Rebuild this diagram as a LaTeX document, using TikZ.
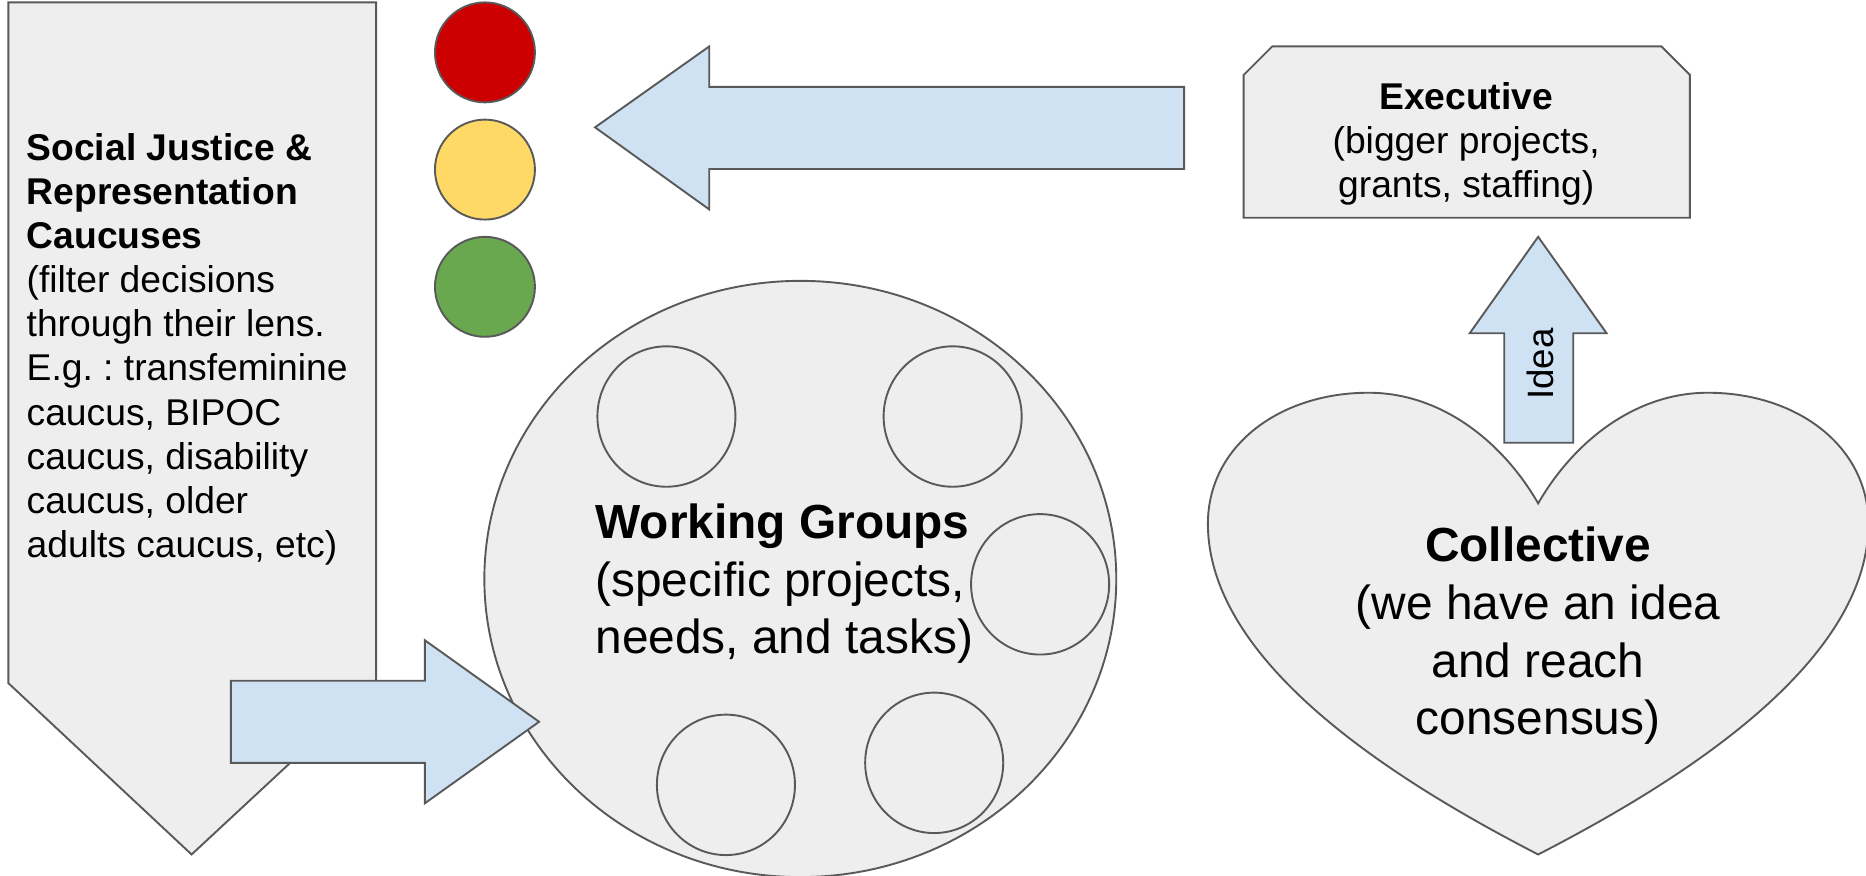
\documentclass[tikz,border=0pt]{standalone}
\usepackage{fontspec}
\setmainfont{Liberation Sans}
\definecolor{shapegray}{HTML}{EEEEEE}
\definecolor{edgegray}{HTML}{595959}
\definecolor{arrowblue}{HTML}{CFE2F3}
\definecolor{lightred}{HTML}{CC0000}
\definecolor{lightyellow}{HTML}{FFD966}
\definecolor{lightgreen}{HTML}{6AA84F}
\tikzset{
    outlined/.style={draw=edgegray, line width=0.8pt, line join=miter},
    grayshape/.style={outlined, fill=shapegray},
    blockarrow/.style={outlined, fill=arrowblue},
    smalltext/.style={inner sep=0pt, font=\fontsize{15.65}{18.55}\selectfont\frenchspacing},
    bigtext/.style={inner sep=0pt, font=\fontsize{20.1}{24.25}\selectfont\frenchspacing},
}
\begin{document}
\begin{tikzpicture}[x=0.5pt, y=-0.5pt]
        \useasboundingbox (0, 0) rectangle (1568, 736);

        % Draw big shapes
        \filldraw[grayshape] (7, 2) -- (316, 2) -- (316, 574) -- (161, 718) -- (7, 574) -- cycle;
        \filldraw[grayshape] (672.5, 486.5) ellipse (265.5 and 250.5);
        \filldraw[grayshape] (1069, 39) -- (1396, 39) -- (1420, 63) -- (1420, 183) -- (1045, 183) -- (1045, 63) -- cycle;
        \filldraw[grayshape] (1292.5, 423) .. controls (1262, 370) and (1210, 330) .. (1150, 330)
            .. controls (1075, 330) and (1015, 375) .. (1015, 440)
            .. controls (1015, 560) and (1180, 660) .. (1292.5, 718)
            .. controls (1405, 660) and (1570, 560) .. (1570, 440)
            .. controls (1570, 375) and (1510, 330) .. (1435, 330)
            .. controls (1375, 330) and (1323, 370) .. (1292.5, 423) -- cycle;

        % Draw lights
        \filldraw[outlined, fill=lightred] (407.5, 44) ellipse (42 and 42);
        \filldraw[outlined, fill=lightyellow] (407.5, 142.5) ellipse (42 and 42);
        \filldraw[outlined, fill=lightgreen] (407.5, 241) ellipse (42 and 42);

        % Draw small groups
        \filldraw[grayshape] (560, 350) ellipse (58 and 59);
        \filldraw[grayshape] (800.5, 350) ellipse (58 and 59);
        \filldraw[grayshape] (874, 491) ellipse (58 and 59);
        \filldraw[grayshape] (610, 659.5) ellipse (58 and 59);
        \filldraw[grayshape] (785, 641) ellipse (58 and 59);

        % Draw arrows
        \filldraw[blockarrow] (500, 107) -- (596, 39) -- (596, 73) -- (995, 73) -- (995, 142) -- (596, 142) -- (596, 176) -- cycle;
        \filldraw[blockarrow] (453, 606.5) -- (357, 538) -- (357, 572) -- (194, 572) -- (194, 641) -- (357, 641) -- (357, 675) -- cycle;
        \filldraw[blockarrow] (1292.5, 199) -- (1350, 280) -- (1322, 280) -- (1322, 372) -- (1264, 372) -- (1264, 280) -- (1235, 280) -- cycle;

        % Texts
        \node[smalltext, align=left, anchor=north west] (caucuses) at (22, 111.5)
            {\textbf{Social Justice \&}\\\textbf{Representation}\\\textbf{Caucuses}\\(filter decisions\\through their lens.\\E.g. : transfeminine\\caucus, BIPOC\\caucus, disability\\caucus, older\\adults caucus, etc)};
        \node[bigtext, align=left, anchor=north west] (groups) at (500, 423)
            {\textbf{Working Groups}\\(specific projects,\\needs, and tasks)};
        \node[smalltext, align=center, anchor=north] (executive) at (1232, 68.5)
            {\textbf{Executive}\\(bigger projects,\\grants, staffing)};
        \node[bigtext, align=center, anchor=north] (collective) at (1292.5, 442.5)
            {\textbf{Collective}\\(we have an idea\\and reach\\consensus)};
        \node[inner sep=0pt, rotate=90, font=\fontsize{15.4}{18}\selectfont] (idea) at (1294, 306) {Idea};

\end{tikzpicture}
\end{document}
